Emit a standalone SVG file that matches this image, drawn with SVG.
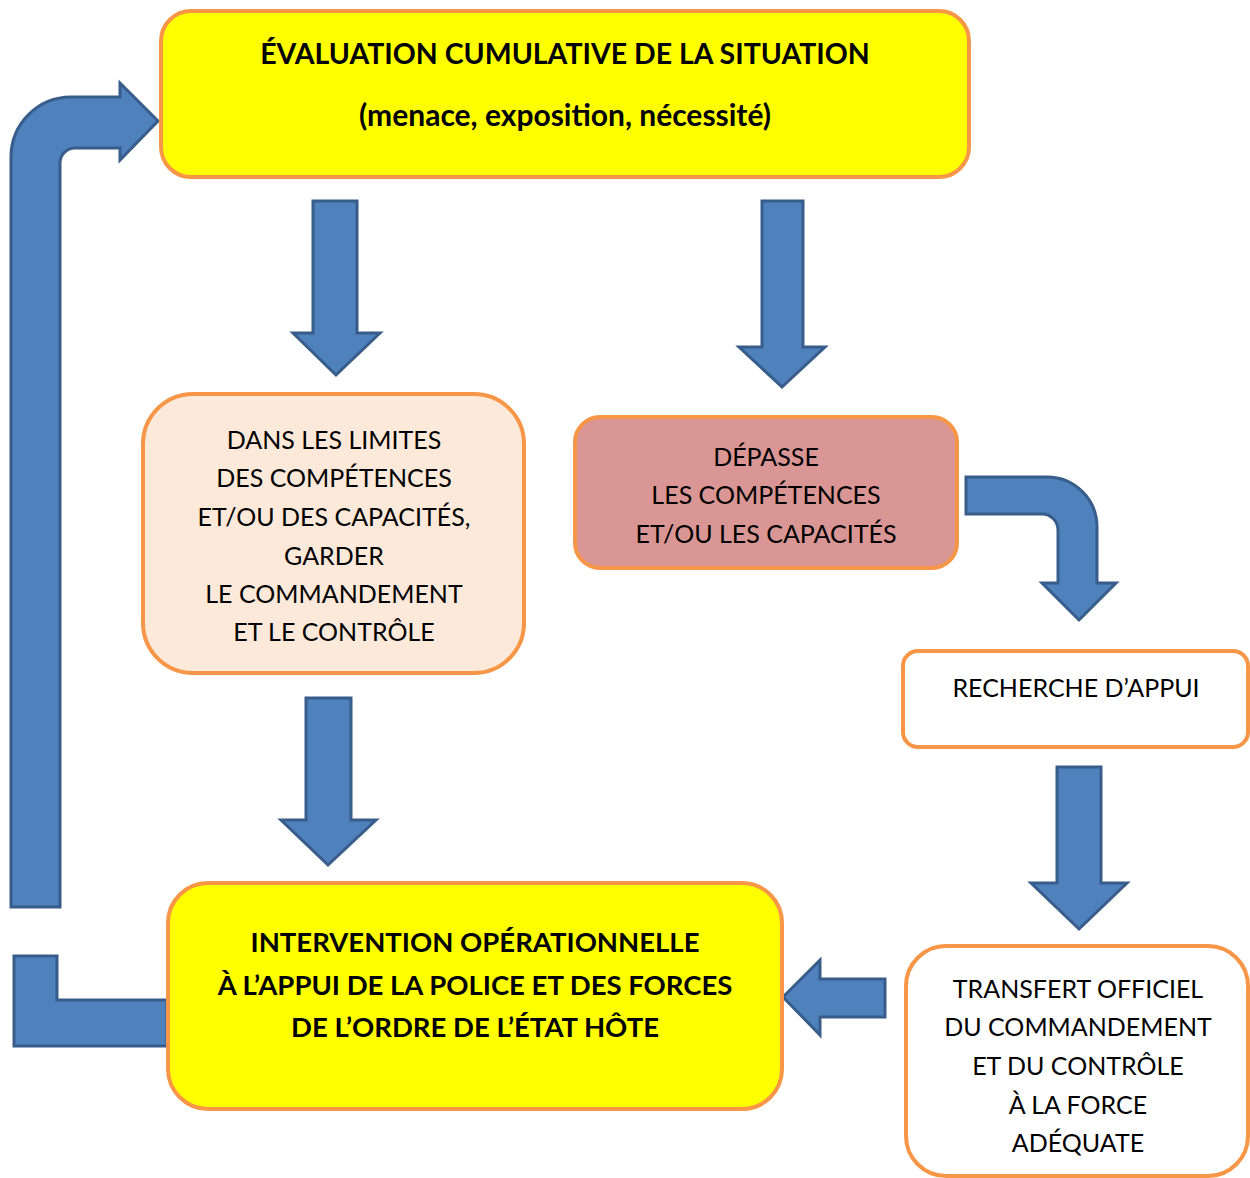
<svg xmlns="http://www.w3.org/2000/svg" width="1250" height="1178" viewBox="0 0 1250 1178">
<style>
.arr{fill:#4F81BD;stroke:#385D8A;stroke-width:3;stroke-linejoin:miter}
.box{stroke:#F79646;stroke-width:4}
.t{font-family:Lato,"Liberation Sans",sans-serif;font-size:25px;fill:#000;text-anchor:middle}
.b{font-family:Lato,"Liberation Sans",sans-serif;font-size:27.5px;font-weight:bold;fill:#000;text-anchor:middle}
</style>
<rect width="1250" height="1178" fill="#fff"/>
<g id="connectors">
<path class="arr" d="M11,907 V157 A60,60 0 0 1 71,97 H120 V83 L158,121 L120,160 V148 H75 A15,15 0 0 0 60,163 V907 Z"/>
<path class="arr" d="M14,956 H57 V1000 H167 V1046 H14 Z"/>
<path class="arr" d="M313,201 H357 V333 H380 L336,375 L293,333 H313 Z"/>
<path class="arr" d="M762,201 H803 V347 H825 L782,387 L739,347 H762 Z"/>
<path class="arr" d="M306,698 H351 V820 H376 L328,865 L281,820 H306 Z"/>
<path class="arr" d="M966,477 H1047 A50,50 0 0 1 1097,527 V583 H1116 L1079,620 L1042,583 H1058 V530 A16,16 0 0 0 1042,514 H966 Z"/>
<path class="arr" d="M1057,767 H1101 V883 H1127 L1079,929 L1031,883 H1057 Z"/>
<path class="arr" d="M885,979 V1017 H820 V1035 L783,997 L820,960 V979 Z"/>
</g>
<g id="evaluation">
<rect class="box" x="161" y="11" width="808" height="166" rx="30" fill="#FFFF00"/>
<text class="b" x="565" y="64" style="font-size:28.5px">ÉVALUATION CUMULATIVE DE LA SITUATION</text>
<text class="b" x="565" y="126" style="font-size:30px">(menace, exposition, nécessité)</text>
</g>
<g id="dans-limites">
<rect class="box" x="143" y="394" width="381" height="279" rx="50" fill="#FDE9D9"/>
<text class="t" x="334" y="449">DANS LES LIMITES</text>
<text class="t" x="334" y="487">DES COMPÉTENCES</text>
<text class="t" x="334" y="526">ET/OU DES CAPACITÉS,</text>
<text class="t" x="334" y="565">GARDER</text>
<text class="t" x="334" y="603">LE COMMANDEMENT</text>
<text class="t" x="334" y="641">ET LE CONTRÔLE</text>
</g>
<g id="depasse">
<rect class="box" x="575" y="417" width="382" height="151" rx="25" fill="#D99694"/>
<text class="t" x="766" y="466">DÉPASSE</text>
<text class="t" x="766" y="504">LES COMPÉTENCES</text>
<text class="t" x="766" y="543">ET/OU LES CAPACITÉS</text>
</g>
<g id="recherche">
<rect class="box" x="903" y="651" width="345" height="96" rx="15" fill="#fff"/>
<text class="t" x="1076" y="697">RECHERCHE D’APPUI</text>
</g>
<g id="transfert">
<rect class="box" x="906" y="946" width="342" height="230" rx="40" fill="#fff"/>
<text class="t" x="1078" y="998">TRANSFERT OFFICIEL</text>
<text class="t" x="1078" y="1036">DU COMMANDEMENT</text>
<text class="t" x="1078" y="1075">ET DU CONTRÔLE</text>
<text class="t" x="1078" y="1114">À LA FORCE</text>
<text class="t" x="1078" y="1152">ADÉQUATE</text>
</g>
<g id="intervention">
<rect class="box" x="168" y="883" width="614" height="226" rx="40" fill="#FFFF00"/>
<text class="b" x="475" y="952">INTERVENTION OPÉRATIONNELLE</text>
<text class="b" x="475" y="995">À L’APPUI DE LA POLICE ET DES FORCES</text>
<text class="b" x="475" y="1037">DE L’ORDRE DE L’ÉTAT HÔTE</text>
</g>
</svg>
